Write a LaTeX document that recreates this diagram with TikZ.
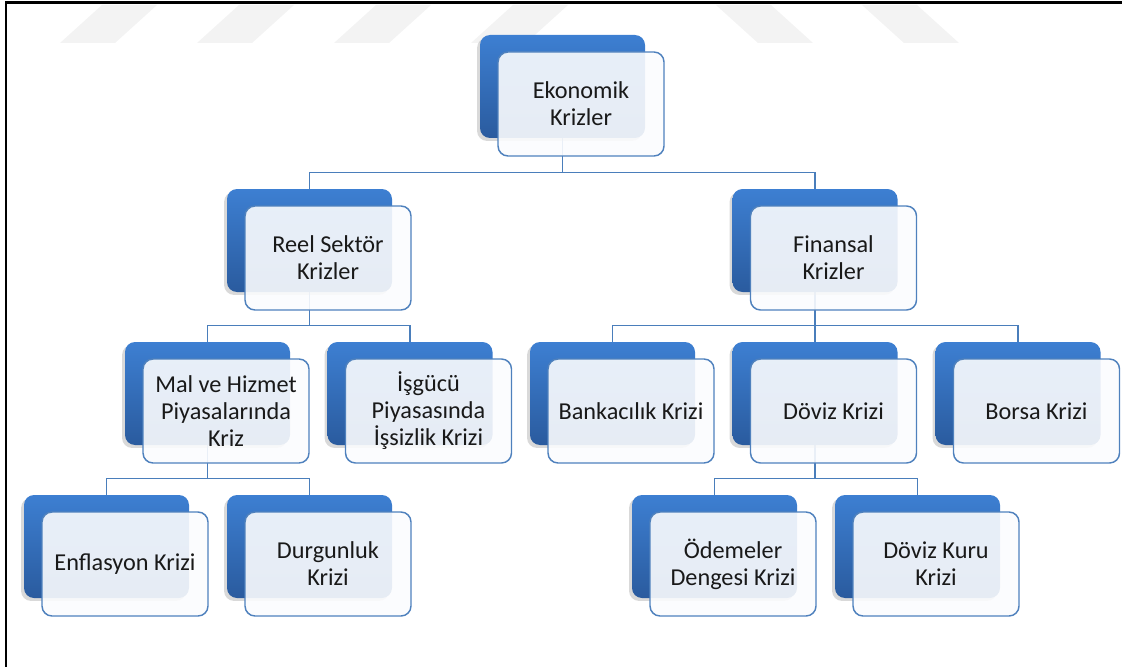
\documentclass[tikz,border=0pt]{standalone}
\usepackage{fontspec}
\setmainfont{Carlito}
\usetikzlibrary{positioning}
\usetikzlibrary{backgrounds}
\usetikzlibrary{shadows}

\definecolor{boxtop}{HTML}{3D7FD2}
\definecolor{boxbottom}{HTML}{2A5B9E}
\definecolor{paneline}{HTML}{4F81BD}
\definecolor{panefill}{HTML}{FBFCFE}
\definecolor{linkline}{HTML}{4A7EBB}
\definecolor{markgray}{HTML}{F3F3F3}

\tikzset{
  backbox/.style={rectangle, rounded corners=7.5pt, minimum width=123.75pt, minimum height=77.25pt, top color=boxtop, bottom color=boxbottom, draw=none, drop shadow={shadow xshift=-2.2pt, shadow yshift=-2.2pt, opacity=0.3}},
  pane/.style={rectangle, rounded corners=7.5pt, minimum width=124.5pt, minimum height=78pt, draw=paneline, line width=1.1pt, fill=panefill, fill opacity=0.9, text opacity=1, align=center, font=\fontsize{18.2pt}{20.3pt}\selectfont, text=black!90},
  link/.style={draw=linkline, line width=1.1pt},
  wmark/.style={fill=markgray}
}

\begin{document}
\begin{tikzpicture}[x=0.75pt, y=-0.75pt]
    \useasboundingbox (0,0) rectangle (1122,667);

    % Nodes
    \node[backbox] (eko-b) at (562.5,86.5) {};
    \node[pane] (eko) at ([shift={(18.5,17.5)}]eko-b) {Ekonomik\\Krizler};

    \node[backbox] (reel-b) at (309.5,240.5) {};
    \node[pane] (reel) at ([shift={(18.5,17.5)}]reel-b) {Reel Sektör\\Krizler};
    \node[backbox] (fin-b) at (815,240.5) {};
    \node[pane] (fin) at ([shift={(18.5,17.5)}]fin-b) {Finansal\\Krizler};

    \node[backbox] (mal-b) at (207.5,393.5) {};
    \node[pane] (mal) at ([shift={(18.5,17.5)}]mal-b) {Mal ve Hizmet\\Piyasalarında\\Kriz};
    \node[backbox] (isgucu-b) at (410,393.5) {};
    \node[pane] (isgucu) at ([shift={(18.5,17.5)}]isgucu-b) {İşgücü\\Piyasasında\\İşsizlik Krizi};
    \node[backbox] (banka-b) at (612.5,393.5) {};
    \node[pane] (banka) at ([shift={(18.5,17.5)}]banka-b) {Bankacılık Krizi};
    \node[backbox] (doviz-b) at (815,393.5) {};
    \node[pane] (doviz) at ([shift={(18.5,17.5)}]doviz-b) {Döviz Krizi};
    \node[backbox] (borsa-b) at (1018,393.5) {};
    \node[pane] (borsa) at ([shift={(18.5,17.5)}]borsa-b) {Borsa Krizi};

    \node[backbox] (enf-b) at (106.5,546.5) {};
    \node[pane] (enf) at ([shift={(18.5,17.5)}]enf-b) {Enflasyon Krizi};
    \node[backbox] (durg-b) at (309.5,546.5) {};
    \node[pane] (durg) at ([shift={(18.5,17.5)}]durg-b) {Durgunluk\\Krizi};
    \node[backbox] (odeme-b) at (714.5,546.5) {};
    \node[pane] (odeme) at ([shift={(18.5,17.5)}]odeme-b) {Ödemeler\\Dengesi Krizi};
    \node[backbox] (kur-b) at (917.5,546.5) {};
    \node[pane] (kur) at ([shift={(18.5,17.5)}]kur-b) {Döviz Kuru\\Krizi};

    % Connectors and page marks
    \begin{scope}[on background layer]
      \foreach \x in {60,197,334,471}
        \fill[wmark] (\x,43) -- ++(55,0) -- ++(42,-38) -- ++(-55,0) -- cycle;
      \foreach \x in {716,862}
        \fill[wmark] (\x,5) -- ++(55,0) -- ++(42,38) -- ++(-55,0) -- cycle;

      \draw[link] (eko-b.south) -- ++(0,34) -| (reel-b.north);
      \draw[link] (eko-b.south) -- ++(0,34) -| (fin-b.north);
      \draw[link] (reel-b.south) -- ++(0,33) -| (mal-b.north);
      \draw[link] (reel-b.south) -- ++(0,33) -| (isgucu-b.north);
      \draw[link] (fin-b.south) -- ++(0,33) -| (banka-b.north);
      \draw[link] (fin-b.south) -- ++(0,33) -| (doviz-b.north);
      \draw[link] (fin-b.south) -- ++(0,33) -| (borsa-b.north);
      \draw[link] (mal-b.south) -- ++(0,33) -| (enf-b.north);
      \draw[link] (mal-b.south) -- ++(0,33) -| (durg-b.north);
      \draw[link] (doviz-b.south) -- ++(0,33) -| (odeme-b.north);
      \draw[link] (doviz-b.south) -- ++(0,33) -| (kur-b.north);
    \end{scope}

    % Frame
    \draw[line width=2pt] (6,667) -- (6,2.8) -- (1122,2.8);
  \end{tikzpicture}
\end{document}
